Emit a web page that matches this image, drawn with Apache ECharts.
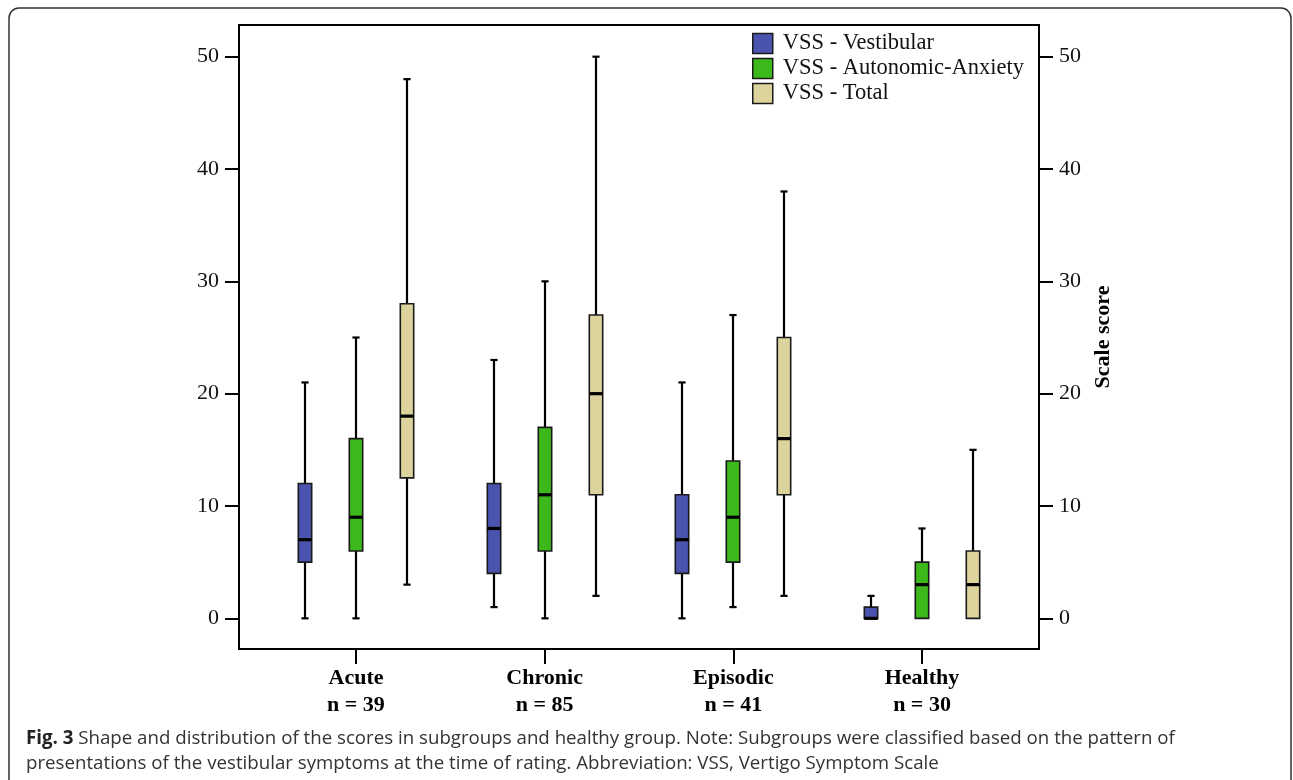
<!DOCTYPE html>
<html>
<head>
<meta charset="utf-8">
<script src="https://cdn.jsdelivr.net/npm/echarts@6/dist/echarts.min.js"></script>
<style>
html,body{margin:0;padding:0;background:#fff;}
#chart{width:1293px;height:780px;}
</style>
</head>
<body>
<div id="chart"></div>
<script>
// ---- data ----
const groups = ['Acute', 'Chronic', 'Episodic', 'Healthy'];
const counts = [39, 85, 41, 30];
const seriesNames = ['VSS - Vestibular', 'VSS - Autonomic-Anxiety', 'VSS - Total'];
// [min, q1, median, q3, max]
const vestibular = [[0, 5, 7, 12, 21], [1, 4, 8, 12, 23], [0, 4, 7, 11, 21], [0, 0, 0, 1, 2]];
const autonomic = [[0, 6, 9, 16, 25], [0, 6, 11, 17, 30], [1, 5, 9, 14, 27], [0, 0, 3, 5, 8]];
const total = [[3, 12.5, 18, 28, 48], [2, 11, 20, 27, 50], [2, 11, 16, 25, 38], [0, 0, 3, 6, 15]];
const yTicks = [0, 10, 20, 30, 40, 50];
const xTicks = [0, 1, 2, 3];

const colors = ['#4A54AE', '#3DB81B', '#DCD49C'];
const offsets = [-0.27, 0, 0.27];
const serif = '"Liberation Serif", "Times New Roman", serif';

function makeRender(off) {
  return function (params, api) {
    const i = api.value(0);
    const unit = api.size([1, 0])[0];
    const cx = Math.round(api.coord([i, 0])[0] + off * unit);
    const w = 0.071 * unit;
    const cap = 0.038 * unit;
    const y = k => api.coord([i, api.value(k)])[1];
    const ymin = y(1), yq1 = y(2), ymed = y(3), yq3 = y(4), ymax = y(5);
    const color = api.visual('color');
    const line = (x1, y1, x2, y2, lw) => ({
      type: 'line', shape: { x1, y1, x2, y2 },
      style: { stroke: '#000', lineWidth: lw }
    });
    const children = [];
    if (ymax < yq3) {
      children.push(line(cx, yq3, cx, ymax, 2.2));
      children.push(line(cx - cap / 2, ymax, cx + cap / 2, ymax, 2.2));
    }
    if (ymin > yq1) {
      children.push(line(cx, yq1, cx, ymin, 2.2));
      children.push(line(cx - cap / 2, ymin, cx + cap / 2, ymin, 2.2));
    }
    children.push({
      type: 'rect',
      shape: { x: cx - w / 2, y: yq3, width: w, height: yq1 - yq3 },
      style: { fill: color, stroke: '#1a1a1a', lineWidth: 1.6 }
    });
    children.push(line(cx - w / 2, ymed, cx + w / 2, ymed, 3.2));
    return { type: 'group', children };
  };
}

const dataSets = [vestibular, autonomic, total];
const series = dataSets.map((arr, s) => ({
  name: seriesNames[s],
  type: 'custom',
  renderItem: makeRender(offsets[s]),
  itemStyle: { color: colors[s], borderColor: '#1a1a1a', borderWidth: 1.5 },
  encode: { x: 0, y: [1, 2, 3, 4, 5] },
  data: arr.map((v, i) => [i].concat(v)),
  silent: true
}));

const yMin = -2.73, yMax = 52.82;
const yAxisBase = {
  type: 'value', min: yMin, max: yMax,
  splitLine: { show: false },
  axisLine: { show: true, onZero: false, lineStyle: { color: '#000', width: 2 } },
  axisTick: { show: true, length: 14, customValues: yTicks, lineStyle: { color: '#000', width: 2 } },
  axisLabel: { customValues: yTicks, margin: 20, color: '#111', fontFamily: serif, fontSize: 22 }
};

const chart = echarts.init(document.getElementById('chart'), null, { renderer: 'canvas' });
chart.setOption({
  animation: false,
  backgroundColor: '#fff',
  grid: { left: 239, right: 254, top: 25, bottom: 131, show: true, borderColor: '#000', borderWidth: 2, backgroundColor: 'transparent' },
  legend: {
    data: seriesNames,
    orient: 'vertical',
    left: 747, top: 27,
    itemWidth: 20, itemHeight: 20, itemGap: 2,
    icon: 'rect',
    itemStyle: { borderColor: '#1a1a1a', borderWidth: 1.5 },
    textStyle: { fontFamily: serif, fontSize: 22.5, lineHeight: 20, color: '#111', padding: [0, 0, 0, 5] },
    selectedMode: false
  },
  xAxis: {
    type: 'value', min: -0.62, max: 3.62,
    splitLine: { show: false },
    axisLine: { show: true, onZero: false, lineStyle: { color: '#000', width: 2 } },
    axisTick: { show: true, length: 15, customValues: xTicks, lineStyle: { color: '#000', width: 2 } },
    axisLabel: {
      customValues: xTicks, margin: 16,
      formatter: v => groups[v] + '\nn = ' + counts[v],
      color: '#000', fontFamily: serif, fontSize: 22, fontWeight: 'bold', lineHeight: 27
    }
  },
  yAxis: [
    Object.assign({}, yAxisBase, { position: 'left' }),
    Object.assign({}, yAxisBase, {
      position: 'right',
      name: 'Scale score', nameLocation: 'middle', nameGap: 47, nameRotate: 90,
      nameTextStyle: { fontFamily: serif, fontSize: 22, fontWeight: 'bold', color: '#000' }
    })
  ],
  series: series,
  graphic: [
    {
      type: 'rect', silent: true,
      shape: { x: 9, y: 8, width: 1282, height: 830, r: 10 },
      style: { fill: 'none', stroke: '#333', lineWidth: 1.5 }
    },
    {
      type: 'text', left: 26, top: 726, silent: true,
      style: {
        text: '{b|Fig. 3} Shape and distribution of the scores in subgroups and healthy group. Note: Subgroups were classified based on the pattern of\npresentations of the vestibular symptoms at the time of rating. Abbreviation: VSS, Vertigo Symptom Scale',
        fontFamily: '"Open Sans", "Noto Sans", sans-serif', fontSize: 18.7, lineHeight: 25, fill: '#333',
        rich: { b: { fontFamily: '"Open Sans", "Noto Sans", sans-serif', fontSize: 18.7, fontWeight: 'bold', fill: '#222' } }
      }
    }
  ]
});
</script>
</body>
</html>
